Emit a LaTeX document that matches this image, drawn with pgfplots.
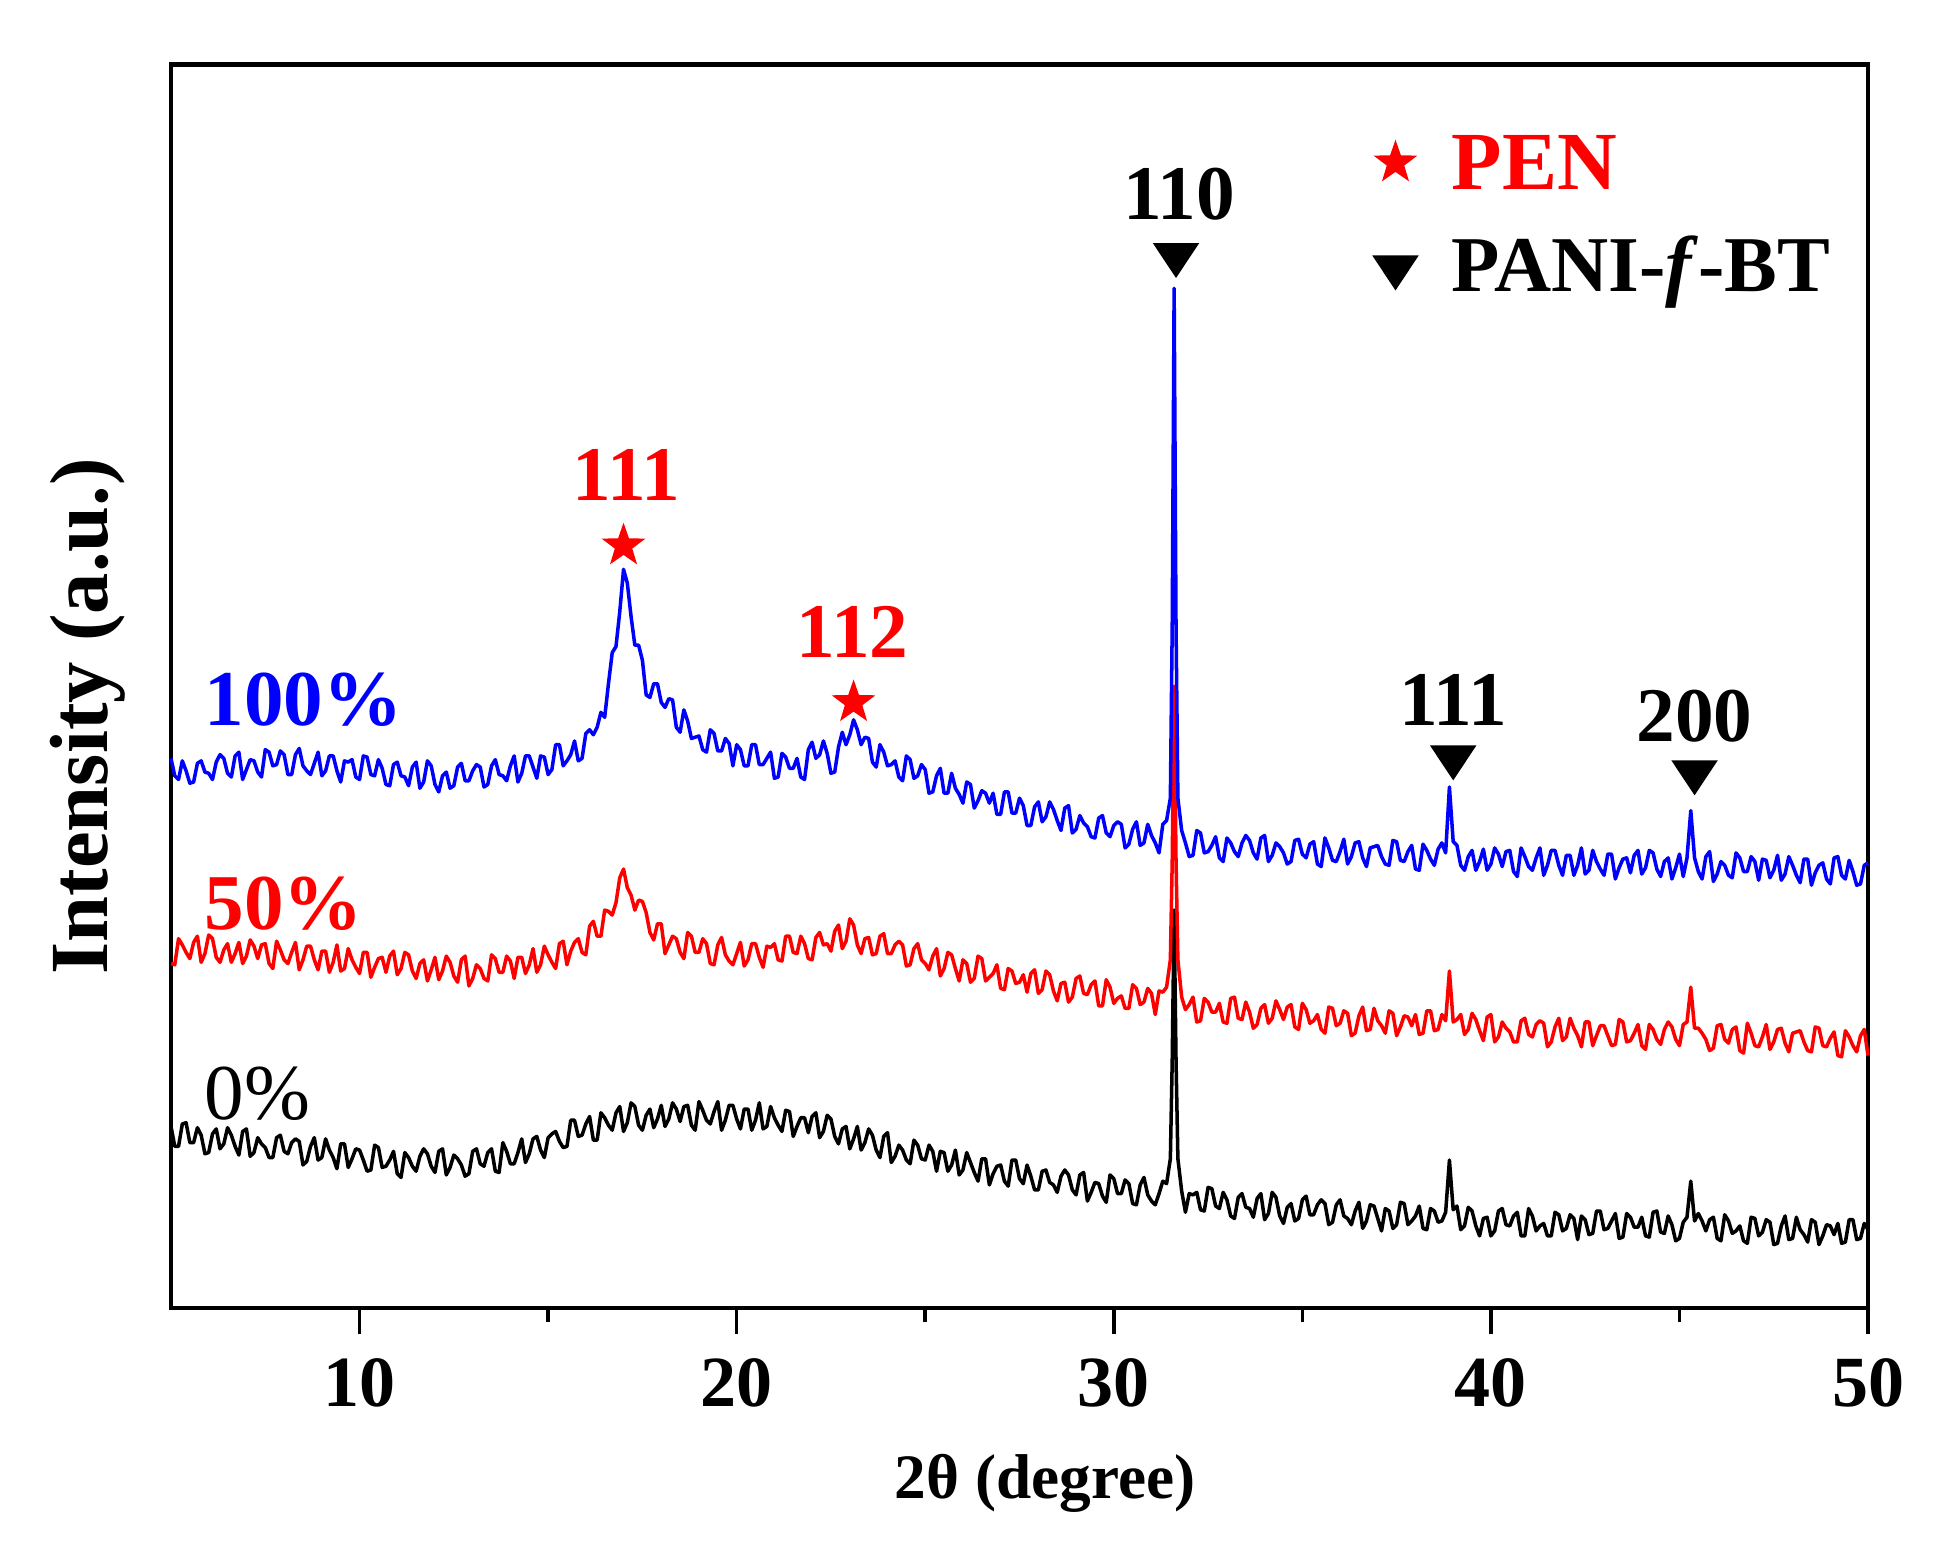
\documentclass[border=0pt]{standalone}
\usepackage{fontspec}
\setmainfont{Liberation Serif}
\usepackage{pgfplots}
\pgfplotsset{compat=1.18}
\usepackage{pgfplotstable}

% filled five-point star for the PEN peaks
\pgfdeclareplotmark{fstar}{%
  \pgfpathmoveto{\pgfpointpolar{90}{\pgfplotmarksize}}%
  \pgfpathlineto{\pgfpointpolar{126}{0.4\pgfplotmarksize}}%
  \pgfpathlineto{\pgfpointpolar{162}{\pgfplotmarksize}}%
  \pgfpathlineto{\pgfpointpolar{198}{0.4\pgfplotmarksize}}%
  \pgfpathlineto{\pgfpointpolar{234}{\pgfplotmarksize}}%
  \pgfpathlineto{\pgfpointpolar{270}{0.4\pgfplotmarksize}}%
  \pgfpathlineto{\pgfpointpolar{306}{\pgfplotmarksize}}%
  \pgfpathlineto{\pgfpointpolar{342}{0.4\pgfplotmarksize}}%
  \pgfpathlineto{\pgfpointpolar{18}{\pgfplotmarksize}}%
  \pgfpathlineto{\pgfpointpolar{54}{0.4\pgfplotmarksize}}%
  \pgfpathclose\pgfusepathqfill}

% 2theta, 0 %, 50 %, 100 % (offset, a.u.)
\pgfplotstableread{
x k r b
5.0 14.6 27.7 44.2
5.1 13.0 27.6 42.8
5.2 13.0 29.7 42.5
5.3 14.8 29.2 44.0
5.4 14.9 28.6 43.2
5.5 13.3 28.1 42.2
5.6 13.3 29.4 42.3
5.7 14.5 29.9 43.8
5.8 13.9 27.8 44.0
5.9 12.4 28.5 43.1
6.0 12.5 30.0 43.0
6.1 14.0 29.7 42.5
6.2 14.4 28.2 43.9
6.3 12.8 27.8 44.5
6.4 13.2 28.8 44.2
6.5 14.5 29.3 43.0
6.6 13.9 27.8 42.7
6.7 13.0 28.5 44.4
6.8 12.3 29.4 44.7
6.9 14.2 27.7 42.5
7.0 14.4 28.3 43.3
7.1 12.2 29.6 44.1
7.2 12.5 29.1 44.0
7.3 13.7 28.1 43.1
7.4 13.2 29.2 42.7
7.5 12.9 29.3 44.9
7.6 12.1 27.7 44.7
7.7 12.1 27.3 43.6
7.8 13.7 29.5 43.7
7.9 13.9 28.8 44.8
8.0 12.6 28.0 44.5
8.1 12.4 27.7 42.9
8.2 13.3 28.6 42.9
8.3 13.6 29.4 44.5
8.4 13.4 27.2 45.0
8.5 11.5 28.0 43.6
8.6 11.8 29.1 43.2
8.7 13.0 29.1 42.9
8.8 13.7 28.0 43.8
8.9 11.9 27.2 44.7
9.0 12.1 28.7 42.8
9.1 13.6 28.7 43.2
9.2 12.7 27.0 44.4
9.3 12.1 27.8 44.4
9.4 11.2 29.2 43.2
9.5 13.2 27.1 42.3
9.6 13.2 27.3 44.0
9.7 11.3 28.9 43.9
9.8 12.0 28.0 44.1
9.9 12.8 27.4 42.7
10.0 12.7 26.9 42.5
10.1 11.9 28.6 44.4
10.2 11.0 28.6 44.3
10.3 11.1 26.6 42.9
10.4 13.1 27.4 42.8
10.5 12.9 28.1 44.1
10.6 11.3 28.2 43.4
10.7 11.4 27.0 42.1
10.8 11.9 28.3 42.0
10.9 12.6 28.7 43.7
11.0 10.8 26.8 43.9
11.1 10.5 27.3 42.8
11.2 12.5 28.6 42.7
11.3 12.1 28.4 42.0
11.4 11.4 27.1 43.5
11.5 11.0 26.5 43.9
11.6 12.2 27.7 41.8
11.7 12.8 28.0 42.3
11.8 12.4 26.3 44.0
11.9 11.4 27.2 43.6
12.0 10.9 28.2 42.1
12.1 12.6 26.4 41.5
12.2 12.8 27.1 42.8
12.3 10.7 28.3 43.1
12.4 11.3 27.8 41.8
12.5 12.3 26.7 42.0
12.6 12.0 26.2 43.5
12.7 11.5 28.0 43.8
12.8 10.6 28.3 42.4
12.9 10.8 25.9 42.4
13.0 12.6 26.5 43.2
13.1 12.8 27.6 43.7
13.2 11.6 27.3 43.5
13.3 11.4 26.5 41.9
13.4 12.5 26.3 42.1
13.5 12.8 28.4 43.6
13.6 11.0 28.1 44.1
13.7 10.9 27.0 42.9
13.8 13.3 27.0 42.8
13.9 12.6 28.3 42.4
14.0 11.6 27.9 43.6
14.1 11.6 26.5 44.4
14.2 12.5 28.2 42.3
14.3 13.6 28.2 43.0
14.4 11.7 26.9 44.4
14.5 12.4 27.6 44.4
14.6 13.6 28.9 43.5
14.7 13.8 27.0 42.6
14.8 12.7 27.6 44.4
14.9 12.1 29.1 44.3
15.0 13.7 28.4 42.9
15.1 14.0 27.8 43.3
15.2 14.2 27.3 45.3
15.3 13.4 29.3 45.3
15.4 12.9 29.5 43.6
15.5 13.0 27.6 44.0
15.6 15.1 28.7 44.5
15.7 15.1 29.4 45.6
15.8 13.8 29.7 44.0
15.9 13.9 28.6 44.2
16.0 14.8 28.4 46.2
16.1 15.4 30.7 46.5
16.2 13.5 31.1 46.1
16.3 13.5 29.9 46.7
16.4 15.7 29.9 47.9
16.5 15.3 32.0 47.5
16.6 14.7 31.9 50.2
16.7 14.3 31.6 52.7
16.8 15.7 32.6 53.2
16.9 16.2 34.6 56.0
17.0 14.2 35.3 59.4
17.1 14.9 33.8 58.3
17.2 16.5 33.2 55.6
17.3 16.2 32.0 53.3
17.4 14.7 32.8 53.3
17.5 14.3 32.7 52.1
17.6 15.5 31.8 49.3
17.7 16.0 30.2 49.1
17.8 14.5 29.6 50.2
17.9 15.2 30.9 50.2
18.0 16.3 30.9 48.7
18.1 14.6 28.5 48.3
18.2 15.2 29.2 49.0
18.3 16.5 29.9 48.9
18.4 16.0 29.7 46.7
18.5 15.0 28.6 46.3
18.6 16.2 28.1 48.1
18.7 16.3 30.2 47.2
18.8 14.7 29.9 45.8
18.9 14.3 28.6 45.9
19.0 16.6 28.6 46.0
19.1 15.9 29.7 44.9
19.2 15.1 29.3 44.7
19.3 14.8 27.7 46.5
19.4 15.8 27.6 46.2
19.5 16.6 29.2 44.8
19.6 14.3 29.8 44.8
19.7 15.1 28.4 45.8
19.8 16.3 27.9 45.4
19.9 16.3 27.6 43.6
20.0 15.2 28.5 45.3
20.1 14.4 29.4 44.9
20.2 16.0 27.5 43.6
20.3 16.0 28.0 43.6
20.4 14.3 29.3 45.3
20.5 15.1 29.3 45.3
20.6 16.5 28.2 43.7
20.7 14.4 27.4 43.7
20.8 14.6 29.1 44.2
20.9 16.2 29.0 44.7
21.0 15.3 29.3 42.6
21.1 14.7 28.0 42.7
21.2 14.2 27.9 44.6
21.3 15.9 29.9 44.3
21.4 15.8 29.9 43.4
21.5 13.8 28.6 43.4
21.6 14.6 28.5 44.2
21.7 15.3 29.9 42.7
21.8 15.3 29.3 42.5
21.9 14.1 28.1 44.9
22.0 15.4 28.0 45.5
22.1 15.7 29.8 44.2
22.2 13.7 30.2 44.5
22.3 14.2 29.2 45.6
22.4 15.5 29.3 44.6
22.5 15.2 28.7 43.0
22.6 13.8 30.3 43.1
22.7 13.2 30.8 45.1
22.8 14.4 28.9 46.3
22.9 14.6 29.5 45.3
23.0 12.8 31.3 46.1
23.1 13.6 30.8 47.3
23.2 14.6 29.2 46.5
23.3 12.7 28.5 45.3
23.4 13.3 29.7 45.9
23.5 14.4 29.8 45.8
23.6 13.9 28.4 43.9
23.7 12.7 28.5 43.5
23.8 12.1 29.9 45.3
23.9 13.8 30.1 44.7
24.0 14.1 28.5 43.6
24.1 11.7 28.5 43.7
24.2 12.2 29.2 44.0
24.3 13.1 29.5 42.7
24.4 12.7 29.2 42.4
24.5 11.9 27.5 44.4
24.6 11.6 27.6 44.1
24.7 13.5 28.9 42.6
24.8 13.1 29.3 42.8
24.9 12.0 28.0 43.7
25.0 11.9 27.7 43.3
25.1 13.1 27.2 41.4
25.2 12.6 28.3 41.5
25.3 11.0 28.9 42.8
25.4 12.6 26.7 43.4
25.5 12.5 27.3 41.4
25.6 11.0 28.6 41.4
25.7 11.5 28.4 43.0
25.8 12.7 27.3 41.8
25.9 10.7 26.3 41.3
26.0 11.1 28.0 40.6
26.1 12.5 27.7 42.3
26.2 11.7 26.2 42.1
26.3 10.9 26.5 40.2
26.4 10.2 28.3 40.8
26.5 12.0 28.1 41.6
26.6 12.0 26.3 41.4
26.7 9.9 26.6 40.6
26.8 10.8 26.9 41.4
26.9 11.4 27.6 39.7
27.0 11.5 25.7 39.7
27.1 10.2 25.6 41.5
27.2 9.8 27.3 41.5
27.3 11.9 27.1 39.8
27.4 11.9 26.1 39.8
27.5 10.4 26.2 41.0
27.6 10.0 26.8 40.4
27.7 11.5 25.4 38.8
27.8 10.6 26.9 38.8
27.9 9.5 27.2 40.3
28.0 9.5 25.3 40.7
28.1 11.0 25.6 39.1
28.2 11.1 27.1 39.5
28.3 10.1 26.8 40.7
28.4 9.9 25.5 40.1
28.5 9.3 24.7 39.2
28.6 10.6 26.1 38.4
28.7 11.1 26.2 40.2
28.8 10.7 24.6 40.4
28.9 9.5 25.0 38.2
29.0 9.1 26.5 38.5
29.1 10.7 26.7 39.6
29.2 10.9 25.3 39.0
29.3 8.6 25.2 38.7
29.4 9.3 26.0 37.9
29.5 10.1 26.3 37.8
29.6 10.0 24.3 39.4
29.7 9.0 24.3 39.6
29.8 8.5 26.4 38.2
29.9 10.7 25.8 37.9
30.0 10.4 24.5 38.8
30.1 9.2 24.9 39.1
30.2 9.2 25.1 38.9
30.3 10.3 24.1 37.0
30.4 10.0 24.1 37.3
30.5 8.4 26.0 38.5
30.6 8.3 25.7 39.1
30.7 9.9 24.4 37.2
30.8 10.5 24.6 37.4
30.9 9.1 25.7 38.9
31.0 8.6 25.3 38.0
31.1 8.3 23.6 37.4
31.2 9.2 25.5 36.6
31.3 10.2 25.4 38.9
31.4 10.0 25.8 39.2
31.5 12.0 28.0 41.0
31.55 20.0 36.0 55.0
31.6 32.0 50.0 82.0
31.65 20.0 36.0 55.0
31.7 12.0 28.0 41.0
31.8 9.4 25.0 38.4
31.9 7.7 24.0 37.4
32.0 9.2 24.4 36.3
32.1 9.1 25.0 36.4
32.2 9.3 23.0 38.4
32.3 7.9 23.1 38.2
32.4 7.8 24.9 36.6
32.5 9.7 24.6 36.7
32.6 9.6 23.8 37.2
32.7 8.2 23.8 37.9
32.8 8.0 24.5 36.2
32.9 9.3 23.0 35.9
33.0 8.7 22.9 37.8
33.1 7.4 24.9 37.4
33.2 7.2 25.0 36.7
33.3 8.9 23.3 36.3
33.4 9.2 23.2 37.4
33.5 8.1 24.6 38.0
33.6 8.0 23.8 37.6
33.7 7.3 22.5 36.6
33.8 8.8 22.8 36.1
33.9 9.2 24.1 37.8
34.0 7.1 24.4 38.0
34.1 7.6 22.9 35.9
34.2 9.3 23.3 36.4
34.3 8.9 24.7 37.4
34.4 7.4 24.0 37.1
34.5 6.8 23.2 36.6
34.6 8.1 24.2 35.7
34.7 8.4 24.4 35.9
34.8 7.0 22.6 37.6
34.9 7.2 22.4 37.7
35.0 8.7 24.5 36.5
35.1 9.0 24.0 36.2
35.2 7.5 22.9 37.3
35.3 7.5 23.1 37.5
35.4 8.3 23.6 35.7
35.5 8.7 22.4 35.5
35.6 8.4 22.1 37.8
35.7 6.7 24.2 37.0
35.8 6.9 24.1 36.0
35.9 8.3 22.7 35.9
36.0 8.7 22.9 36.7
36.1 7.4 23.9 37.7
36.2 7.2 23.7 35.7
36.3 6.7 21.9 36.3
36.4 7.8 22.1 37.4
36.5 8.5 23.5 37.5
36.6 6.4 24.2 36.2
36.7 7.0 22.3 35.5
36.8 8.3 22.4 37.0
36.9 8.2 24.1 37.1
37.0 7.2 23.1 37.2
37.1 6.2 22.7 36.3
37.2 8.0 22.1 35.7
37.3 7.8 23.9 35.6
37.4 6.4 23.7 37.6
37.5 6.7 21.9 37.5
37.6 8.5 22.6 36.0
37.7 8.4 23.5 35.9
37.8 6.7 23.4 36.7
37.9 7.0 22.7 37.2
38.0 7.4 23.6 35.3
38.1 8.2 22.0 35.2
38.2 6.4 22.1 37.3
38.3 6.3 23.9 36.8
38.4 8.0 23.9 36.1
38.5 7.8 22.3 35.6
38.6 6.9 22.4 36.9
38.7 7.0 23.6 37.4
38.8 7.7 23.1 36.6
38.9 11.9 27.1 41.9
39.0 7.9 23.0 37.5
39.1 8.2 23.2 37.2
39.2 6.3 23.6 35.6
39.3 6.6 22.0 35.2
39.4 8.1 22.4 36.3
39.5 7.8 23.7 36.8
39.6 6.6 23.2 35.2
39.7 5.8 22.3 35.9
39.8 7.2 21.5 36.9
39.9 7.3 23.4 35.2
40.0 5.8 23.6 35.7
40.1 6.2 21.4 37.0
40.2 7.8 21.8 36.5
40.3 8.0 23.0 35.5
40.4 6.7 22.5 36.7
40.5 6.6 22.2 36.8
40.6 7.4 21.4 35.1
40.7 7.7 21.4 34.7
40.8 5.8 23.1 37.0
40.9 5.8 23.3 36.3
41.0 8.0 22.0 35.5
41.1 7.4 21.8 35.2
41.2 6.2 22.8 36.2
41.3 6.6 23.1 37.0
41.4 6.8 22.9 34.8
41.5 5.8 21.0 35.6
41.6 5.8 21.4 36.8
41.7 7.7 22.6 36.8
41.8 7.5 23.3 35.6
41.9 6.2 21.5 34.8
42.0 6.4 21.8 36.4
42.1 7.5 23.3 36.4
42.2 7.2 22.5 34.8
42.3 5.5 21.9 35.6
42.4 7.4 21.0 37.0
42.5 7.1 23.0 34.9
42.6 5.9 23.0 35.2
42.7 6.0 21.1 36.8
42.8 7.8 21.9 35.9
42.9 7.8 22.7 35.3
43.0 6.3 22.7 34.8
43.1 6.4 21.9 36.5
43.2 7.0 21.1 36.5
43.3 7.6 21.2 34.5
43.4 5.6 23.2 35.4
43.5 5.7 23.0 36.1
43.6 7.6 21.4 36.2
43.7 7.3 21.5 35.0
43.8 6.5 22.1 36.4
43.9 6.5 22.8 36.8
44.0 7.3 21.1 34.9
44.1 5.8 20.8 35.4
44.2 5.7 22.8 36.8
44.3 7.7 22.4 36.6
44.4 7.8 21.6 35.3
44.5 6.1 21.2 34.7
44.6 6.0 22.4 35.9
44.7 7.4 23.0 36.2
44.8 6.7 22.6 34.5
44.9 5.4 21.6 35.4
45.0 5.6 21.1 36.5
45.1 6.9 22.8 34.7
45.2 7.3 23.0 36.2
45.3 10.2 25.8 40.0
45.4 7.0 22.5 36.2
45.5 7.6 22.5 35.1
45.6 7.0 22.1 34.5
45.7 6.2 21.6 36.3
45.8 7.1 20.7 36.7
45.9 7.3 20.9 34.3
46.0 5.6 22.7 34.9
46.1 5.4 22.8 35.9
46.2 7.5 21.6 35.6
46.3 7.0 21.3 34.8
46.4 6.0 22.4 34.6
46.5 6.2 22.6 36.6
46.6 6.6 20.7 36.2
46.7 5.4 20.5 35.1
46.8 5.2 22.9 35.1
46.9 7.3 22.1 36.3
47.0 7.2 21.1 35.9
47.1 5.8 21.0 34.4
47.2 6.1 21.8 36.1
47.3 7.1 22.8 36.0
47.4 6.9 20.8 34.6
47.5 5.1 21.4 35.2
47.6 5.2 22.4 36.4
47.7 6.6 22.5 34.4
47.8 7.4 21.3 34.9
47.9 5.5 20.6 36.3
48.0 5.6 22.1 35.6
48.1 7.3 22.2 34.8
48.2 6.3 22.3 34.2
48.3 5.9 21.4 36.1
48.4 5.3 20.7 36.1
48.5 7.1 20.6 34.0
48.6 6.9 22.6 35.0
48.7 5.1 22.5 35.6
48.8 5.8 21.1 35.8
48.9 6.7 21.0 34.5
49.0 6.6 21.7 34.1
49.1 5.9 22.2 36.2
49.2 6.8 20.3 36.3
49.3 5.2 20.2 34.8
49.4 5.3 22.3 34.5
49.5 7.1 21.8 36.0
49.6 7.1 21.1 35.1
49.7 5.5 20.6 34.0
49.8 5.6 21.9 34.1
49.9 6.8 22.4 35.6
50.0 6.3 20.3 35.8
}\xrd

\begin{document}
\begin{tikzpicture}
\begin{axis}[
  scale only axis,
  width=169.7mm, height=124.35mm,
  xmin=5, xmax=50, ymin=0, ymax=100,
  xtick={10,20,30,40,50},
  minor x tick num=1,
  ytick=\empty,
  xtick pos=left,
  tick align=outside,
  major tick length=2.6mm,
  minor tick length=1.4mm,
  every tick/.style={black, line width=1pt},
  axis line style={line width=1.4pt},
  /pgf/number format/assume math mode=true,
  xticklabel style={font=\fontsize{20.5}{20.5}\selectfont\bfseries, yshift=-1.2mm},
  xlabel={2θ (degree)},
  ylabel={Intensity (a.u.)},
  xlabel style={font=\fontsize{18}{18}\selectfont\bfseries, at={(axis description cs:0.515,0)}, anchor=north, inner sep=0pt, yshift=-14.6mm},
  ylabel style={font=\fontsize{23.5}{23.5}\selectfont\bfseries, at={(axis description cs:0,0.476)}, anchor=south, inner sep=0pt, yshift=4.5mm},
  clip=false,
]
\addplot[black, line width=1pt, line join=round] table[x=x, y=k] {\xrd};
\addplot[red, line width=1pt, line join=round] table[x=x, y=r] {\xrd};
\addplot[blue, line width=1pt, line join=round] table[x=x, y=b] {\xrd};

% peak markers
\addplot[only marks, red, mark=fstar, mark size=2.3mm] coordinates {(17.0,61.3) (23.1,48.7) (37.47,92.1)};
\addplot[only marks, black, mark=triangle*, mark size=2.2mm, mark options={rotate=180, xscale=1.15}]
  coordinates {(31.65,84.7) (39.0,44.3) (45.4,43.1) (37.47,83.7)};

\begin{scope}[font=\fontsize{22}{22}\selectfont\bfseries]
\node[red] at (axis cs:17.08,67.0) {111};
\node[red] at (axis cs:23.07,54.4) {112};
\node at (axis cs:31.74,89.6) {110};
\node at (axis cs:39.0,48.9) {111};
\node at (axis cs:45.4,47.6) {200};
\end{scope}
\begin{scope}[font=\fontsize{22.5}{22.5}\selectfont\bfseries, inner sep=0pt]
\node[blue, anchor=west] at (axis cs:5.88,48.9) {100\%};
\node[red, anchor=west] at (axis cs:5.88,32.5) {50\%};
\node[anchor=west, font=\fontsize{22.5}{22.5}\selectfont\mdseries] at (axis cs:5.88,17.2) {0\%};
\node[red, anchor=west, font=\fontsize{23.5}{23.5}\selectfont\bfseries] at (axis cs:38.94,92.1) {PEN};
\node[anchor=west] at (axis cs:38.94,83.3) {PANI-\textit{f}-BT};
\end{scope}

\coordinate (bl) at (rel axis cs:0,0);
\coordinate (tr) at (rel axis cs:1,1);
\end{axis}
\pgfresetboundingbox
\path ([shift={(-17.1mm,-24.8mm)}]bl) rectangle ([shift={(6.7mm,6.45mm)}]tr);
\end{tikzpicture}
\end{document}
